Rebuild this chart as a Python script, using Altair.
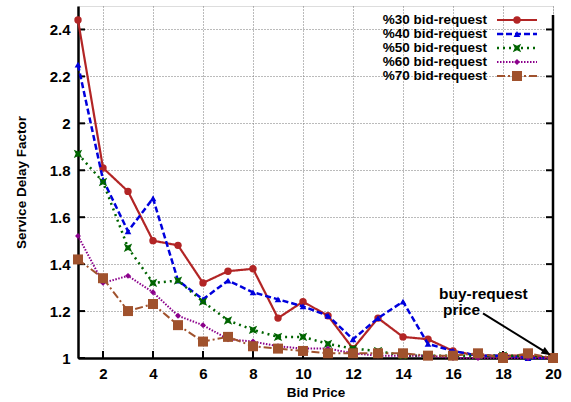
import altair as alt
import pandas as pd

# ---- data -----------------------------------------------------------------
bid_price = list(range(1, 21))

delay_30 = [2.44, 1.81, 1.71, 1.50, 1.48, 1.32, 1.37, 1.38, 1.17, 1.24,
            1.18, 1.04, 1.17, 1.09, 1.08, 1.03, 1.01, 1.01, 1.01, 1.00]
delay_40 = [2.25, 1.76, 1.54, 1.68, 1.33, 1.25, 1.33, 1.28, 1.25, 1.22,
            1.18, 1.08, 1.17, 1.24, 1.06, 1.03, 1.01, 1.01, 1.00, 1.00]
delay_50 = [1.87, 1.75, 1.47, 1.32, 1.33, 1.24, 1.16, 1.12, 1.09, 1.09,
            1.06, 1.04, 1.03, 1.01, 1.01, 1.01, 1.01, 1.01, 1.01, 1.00]
delay_60 = [1.52, 1.32, 1.35, 1.28, 1.18, 1.14, 1.08, 1.07, 1.05, 1.04,
            1.04, 1.02, 1.01, 1.01, 1.01, 1.00, 1.00, 1.00, 1.00, 1.00]
delay_70 = [1.42, 1.34, 1.20, 1.23, 1.14, 1.07, 1.09, 1.05, 1.04, 1.03,
            1.02, 1.02, 1.02, 1.02, 1.01, 1.01, 1.02, 1.00, 1.02, 1.00]

series_names = ["%30 bid-request", "%40 bid-request", "%50 bid-request",
                "%60 bid-request", "%70 bid-request"]
series_values = [delay_30, delay_40, delay_50, delay_60, delay_70]

x_tick_values = [2, 4, 6, 8, 10, 12, 14, 16, 18, 20]
y_tick_values = [1.0, 1.2, 1.4, 1.6, 1.8, 2.0, 2.2, 2.4]

annotation_lines = ["buy-request", "price"]
arrow_from = (17.2, 1.19)
arrow_to = (19.75, 1.022)

# ---- styling --------------------------------------------------------------
W, H = 475, 352
FONT = "Liberation Sans"

cross_box = "M-1,-1L0,-0.55L1,-1L0.55,0L1,1L0,0.55L-1,1L-0.55,0Z"
styles = [
    dict(color="#b22525", dash=[1, 0], width=2.2, shape="circle", size=55),
    dict(color="#0000dd", dash=[6, 3], width=2.5, shape="triangle-up", size=45),
    dict(color="#006400", dash=[2, 4], width=2.5, shape=cross_box, size=70),
    dict(color="#8b008b", dash=[1.5, 1.5], width=2, shape="diamond", size=35),
    dict(color="#a0522d", dash=[8, 3, 2, 3], width=2, shape="square", size=100),
]

x_scale = alt.Scale(domain=[1, 20], nice=False, zero=False)
y_scale = alt.Scale(domain=[1, 2.5], nice=False, zero=False)

axis_common = dict(
    grid=True, gridDash=[1, 2], gridColor="#777777", gridWidth=1,
    ticks=False, labelPadding=8, domainColor="black", domainWidth=2.5,
    labelFont=FONT, labelFontSize=15, labelFontWeight="bold", labelColor="black",
    labelFlush=False, labelOverlap=False,
    titleFont=FONT, titleFontSize=13.5, titleFontWeight="bold", titleColor="black",
    titleBaseline="middle",
)
x_axis = alt.Axis(values=x_tick_values, title="Bid Price", titleY=34, **axis_common)
y_axis = alt.Axis(values=y_tick_values, title="Service Delay Factor", format="~g",
                  titleX=-57, titleY=176, titleAngle=270, **axis_common)


def xenc(field):
    return alt.X(field, scale=x_scale, axis=x_axis)


def yenc(field):
    return alt.Y(field, scale=y_scale, axis=y_axis)


layers = []

# inward tick marks on bottom, left and right
xt = pd.DataFrame({"bid": x_tick_values})
yt = pd.DataFrame({"delay": y_tick_values})
layers.append(alt.Chart(xt).mark_rule(color="black", strokeWidth=2).encode(
    x=xenc("bid:Q"), y=alt.value(H), y2=alt.value(H - 7)))
layers.append(alt.Chart(yt).mark_rule(color="black", strokeWidth=2).encode(
    y=yenc("delay:Q"), x=alt.value(0), x2=alt.value(7)))
layers.append(alt.Chart(yt).mark_rule(color="black", strokeWidth=2).encode(
    y=yenc("delay:Q"), x=alt.value(W), x2=alt.value(W - 7)))
# right border
layers.append(alt.Chart(xt.head(1)).mark_rule(color="black", strokeWidth=2.5).encode(
    x=alt.value(W), y=alt.value(9), y2=alt.value(H)))

# series: line then markers
for name, vals, st in zip(series_names, series_values, styles):
    df = pd.DataFrame({"bid": bid_price, "delay": vals})
    layers.append(alt.Chart(df).mark_line(
        color=st["color"], strokeDash=st["dash"], strokeWidth=st["width"]).encode(
        x=xenc("bid:Q"), y=yenc("delay:Q")))
    layers.append(alt.Chart(df).mark_point(
        shape=st["shape"], filled=True, opacity=1, size=st["size"],
        color=st["color"]).encode(x=xenc("bid:Q"), y=yenc("delay:Q")))

# legend in the upper right corner
for i, (name, st) in enumerate(zip(series_names, styles)):
    row_y = 14 + 14 * i
    ldf = pd.DataFrame({"label": [name]})
    layers.append(alt.Chart(ldf).mark_text(
        font=FONT, fontSize=13.5, fontWeight="bold", align="right",
        baseline="middle", color="black").encode(
        text="label:N", x=alt.value(409), y=alt.value(row_y)))
    layers.append(alt.Chart(ldf).mark_rule(
        color=st["color"], strokeDash=st["dash"], strokeWidth=st["width"]).encode(
        x=alt.value(419), x2=alt.value(459), y=alt.value(row_y)))
    layers.append(alt.Chart(ldf).mark_point(
        shape=st["shape"], filled=True, opacity=1, size=st["size"],
        color=st["color"]).encode(x=alt.value(439), y=alt.value(row_y)))

# annotation with arrow
for text, px, py in zip(annotation_lines, [361, 365], [293, 309]):
    layers.append(alt.Chart(pd.DataFrame({"t": [text]})).mark_text(
        font=FONT, fontSize=15.5, fontWeight="bold", align="left",
        baseline="alphabetic", color="black").encode(
        text="t:N", x=alt.value(px), y=alt.value(py)))

arrow_df = pd.DataFrame({"bid": [arrow_from[0]], "delay": [arrow_from[1]],
                         "bid_end": [arrow_to[0]], "delay_end": [arrow_to[1]]})
layers.append(alt.Chart(arrow_df).mark_rule(color="black", strokeWidth=2).encode(
    x=xenc("bid:Q"), y=yenc("delay:Q"), x2="bid_end:Q", y2="delay_end:Q"))
layers.append(alt.Chart(arrow_df).mark_point(
    shape="M0,-1L0.8,1L-0.8,1Z", filled=True, opacity=1, size=90, color="black",
    angle=122).encode(x=xenc("bid_end:Q"), y=yenc("delay_end:Q")))

chart = alt.layer(*layers).properties(
    width=W, height=H,
    autosize=alt.AutoSizeParams(type="none"),
    padding={"left": 78, "top": 6, "right": 18, "bottom": 44},
).configure_view(stroke=None).configure(background="white")

chart.save("out.html", embed_options={"renderer": "svg", "actions": False})
